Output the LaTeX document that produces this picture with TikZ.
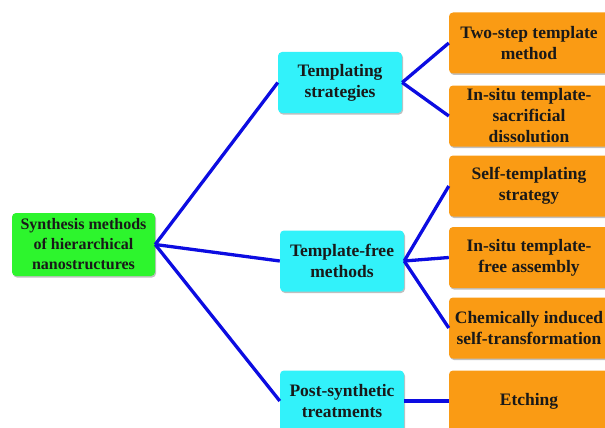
\documentclass[tikz,border=0pt]{standalone}
\usepackage{fontspec}
\setmainfont{Liberation Serif}
\usetikzlibrary{shadows}
\definecolor{rootgreen}{RGB}{45, 245, 45}
\definecolor{midcyan}{RGB}{50, 242, 250}
\definecolor{leaforange}{RGB}{250, 155, 20}
\definecolor{linkblue}{RGB}{12, 12, 225}
\begin{document}
\begin{tikzpicture}[x=1pt, y=-1pt,
  box/.style={rounded corners=4pt, align=center, inner sep=1pt, text=black!90,
    font=\bfseries\fontsize{17.5}{21}\selectfont,
    drop shadow={shadow xshift=1pt, shadow yshift=-1.5pt, opacity=0.25, fill=black}},
  rootbox/.style={box, fill=rootgreen, minimum width=143pt, minimum height=63pt,
    font=\bfseries\fontsize{16}{20}\selectfont},
  midbox/.style={box, fill=midcyan, minimum width=124pt, minimum height=61pt},
  leafbox/.style={box, fill=leaforange, minimum width=160pt, minimum height=61pt},
  link/.style={linkblue, line width=3.3pt}]
\clip (0,0) rectangle (605,428);
% Root
\node[rootbox] (root) at (83.5,244.5) {Synthesis methods\\of hierarchical\\nanostructures};
% Strategies
\node[midbox] (tmpl) at (340,82.5) {Templating\\strategies};
\node[midbox] (free) at (342,261) {Template-free\\methods};
\node[midbox] (post) at (342,401) {Post-synthetic\\treatments};
% Methods
\node[leafbox] (twostep) at (529,43) {Two-step template\\method};
\node[leafbox] (sacrif) at (529,116) {In-situ template-\\sacrificial\\dissolution};
\node[leafbox] (selftmpl) at (529,186) {Self-templating\\strategy};
\node[leafbox] (assembly) at (529,257.5) {In-situ template-\\free assembly};
\node[leafbox] (chem) at (529,328) {Chemically induced\\self-transformation};
\node[leafbox] (etch) at (529,401) {Etching};
% Links
\draw[link] (root.east) -- (tmpl.west);
\draw[link] (root.east) -- (free.west);
\draw[link] (root.east) -- (post.west);
\draw[link] (tmpl.east) -- (twostep.west);
\draw[link] (tmpl.east) -- (sacrif.west);
\draw[link] (free.east) -- (selftmpl.west);
\draw[link] (free.east) -- (assembly.west);
\draw[link] (free.east) -- (chem.west);
\draw[link] (post.east) -- (etch.west);
\end{tikzpicture}
\end{document}
